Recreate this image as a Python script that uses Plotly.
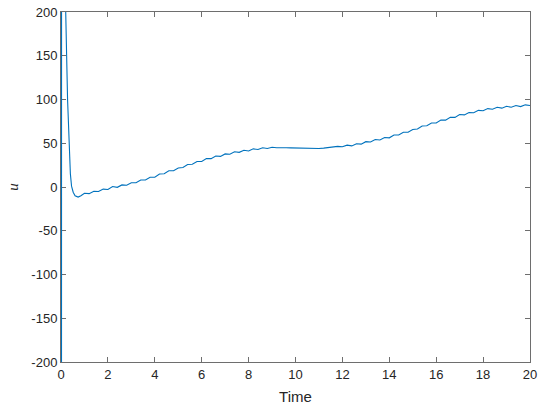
import plotly.graph_objects as go

# Time samples and control signal u
t_start = [0.02, 0.025, 0.1, 0.18, 0.24, 0.28, 0.34, 0.40, 0.45, 0.52, 0.6, 0.73, 0.85]
u_start = [-600, 600, 330, 200, 150, 100, 50, 15, 1, -6, -10, -11.5, -10]

t_main = [round(1.0 + 0.2 * i, 1) for i in range(96)]
u_main = [
    -7.2, -7.6, -4.8, -5.2, -2.4, -2.8, 0.6, -0.4, 2.4, 2.0,
    4.8, 4.8, 8.0, 8.0, 11.2, 11.2, 14.8, 15.2, 18.6, 18.6,
    21.8, 22.2, 25.8, 26.0, 29.2, 29.2, 32.4, 32.4, 35.4, 35.0,
    37.8, 37.4, 40.2, 39.6, 42.0, 41.2, 43.6, 42.8, 44.8, 44.0,
    45.4, 44.8, 45.2, 44.9, 44.7, 44.5, 44.3, 44.1, 44.0, 44.0,
    44.0, 44.4, 45.1, 45.0, 46.4, 46.0, 47.8, 47.0, 49.4, 49.0,
    51.8, 51.4, 54.2, 53.8, 56.6, 56.2, 59.4, 59.4, 62.6, 62.6,
    65.8, 66.2, 69.8, 70.0, 73.2, 73.2, 76.4, 76.4, 79.6, 79.6,
    82.8, 82.4, 85.2, 84.8, 87.6, 87.2, 89.6, 88.8, 91.1, 90.1,
    92.3, 91.1, 93.1, 91.9, 93.9, 93.2,
]

t_vals = t_start + t_main
u_vals = u_start + u_main

x_ticks = [0, 2, 4, 6, 8, 10, 12, 14, 16, 18, 20]
y_ticks = [-200, -150, -100, -50, 0, 50, 100, 150, 200]
y_tick_text = ["-200", "-150", "-100", "-50", "0", "50", "100", "150", "200"]

fig = go.Figure()
fig.add_trace(go.Scatter(
    x=t_vals, y=u_vals, mode="lines",
    line=dict(color="#0072BD", width=1.1),
    showlegend=False, hoverinfo="skip",
))

axis_common = dict(
    showgrid=False, zeroline=False, showline=True, mirror="ticks",
    linecolor="#6e6e6e", linewidth=1, ticks="inside", ticklen=5,
    tickcolor="#6e6e6e", automargin=False, layer="below traces",
    tickfont=dict(family="Liberation Sans, Arial", size=13, color="#262626"),
)

fig.update_layout(
    width=550, height=411,
    margin=dict(l=61, r=20, t=12, b=49),
    paper_bgcolor="white", plot_bgcolor="white",
    xaxis=dict(range=[0, 20], tickvals=x_ticks,
               title=dict(text="Time", font=dict(family="Liberation Sans, Arial", size=15, color="#262626"), standoff=10),
               **axis_common),
    yaxis=dict(range=[-200, 200], tickvals=y_ticks, ticktext=y_tick_text,
               title=dict(text="<i>u</i>", font=dict(family="Liberation Serif, Times New Roman", size=15, color="#262626"), standoff=9),
               **axis_common),
)

fig.write_html(
    "out.html",
    config={"displayModeBar": False, "staticPlot": True},
    post_script="document.body.style.margin='0';document.body.style.overflow='hidden';",
)
